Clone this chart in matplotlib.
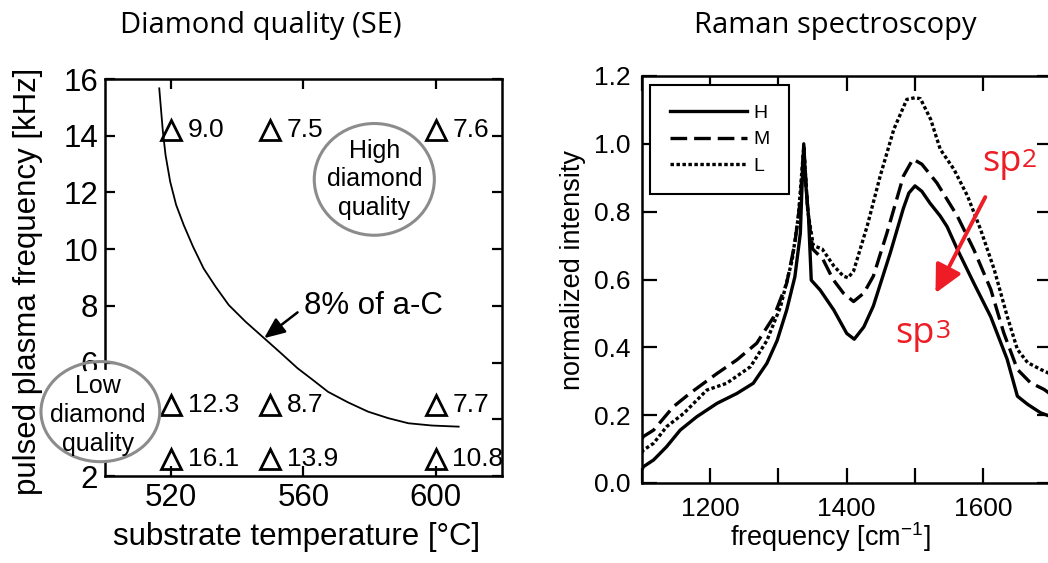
import numpy as np
import matplotlib
matplotlib.use('Agg')
import matplotlib.pyplot as plt
from matplotlib.patches import Ellipse
from matplotlib.ticker import MultipleLocator, FormatStrFormatter

plt.rcParams['font.family'] = ['Liberation Sans', 'DejaVu Sans']
plt.rcParams['mathtext.fontset'] = 'custom'
plt.rcParams['mathtext.rm'] = 'Liberation Sans'
plt.rcParams['lines.scale_dashes'] = False

# ---- diamond quality map (a-C content in %) ----
temps = [520, 550, 600]
freq_rows = [14.2, 4.5, 2.6]
ac_percent = [[9.0, 7.5, 7.6],
              [12.3, 8.7, 7.7],
              [16.1, 13.9, 10.8]]

# 8 % a-C boundary
bound_T = [516.4, 516.9, 517.5, 518.3, 519.7, 521.5, 523.8, 526.6, 529.8, 533.4,
           537.4, 542.5, 548.1, 553.2, 558.2, 562.8, 567.4, 573.4, 579.5, 585.6,
           591.7, 598.8, 606.9]
bound_f = [15.67, 14.97, 14.14, 13.32, 12.38, 11.56, 10.85, 10.09, 9.32, 8.68,
           8.03, 7.44, 6.86, 6.33, 5.80, 5.39, 4.97, 4.60, 4.27, 4.04,
           3.86, 3.78, 3.74]

# ---- Raman spectra ----
nu_H = [1100, 1102, 1117, 1136, 1156, 1180, 1210, 1239, 1263, 1283, 1298, 1312, 1324,
        1332, 1334, 1337, 1340, 1344, 1348, 1361, 1381, 1400, 1411, 1425, 1439, 1464,
        1483, 1491, 1500, 1510, 1522, 1537, 1547, 1562, 1586, 1611, 1635, 1650, 1665,
        1684, 1700]
int_H = [0.04, 0.048, 0.068, 0.107, 0.156, 0.195, 0.235, 0.264, 0.294, 0.353, 0.42, 0.51, 0.608,
         0.736, 0.85, 1.0, 0.88, 0.785, 0.598, 0.569, 0.51, 0.441, 0.424, 0.46, 0.522, 0.68,
         0.81, 0.855, 0.876, 0.86, 0.825, 0.787, 0.756, 0.689, 0.59, 0.49, 0.365, 0.256, 0.232,
         0.207, 0.195]

nu_M = [1100, 1102, 1117, 1146, 1170, 1210, 1239, 1268, 1293, 1312, 1324, 1332, 1337,
        1343, 1350, 1365, 1380, 1395, 1410, 1425, 1439, 1459, 1483, 1497, 1510, 1532, 1562,
        1586, 1611, 1630, 1650, 1669, 1689, 1700]
int_M = [0.13, 0.137, 0.156, 0.225, 0.264, 0.323, 0.363, 0.412, 0.49, 0.589, 0.707, 0.834, 0.99,
         0.80, 0.69, 0.66, 0.60, 0.56, 0.535, 0.56, 0.61, 0.738, 0.905, 0.955, 0.94, 0.885, 0.787,
         0.689, 0.571, 0.443, 0.335, 0.296, 0.276, 0.26]

nu_L = [1100, 1102, 1117, 1136, 1161, 1195, 1224, 1259, 1283, 1303, 1320, 1329, 1337,
        1343, 1351, 1364, 1381, 1395, 1402, 1410, 1430, 1449, 1469, 1488, 1500, 1508,
        1523, 1537, 1557, 1577, 1596, 1616, 1635, 1650, 1665, 1684, 1700]
int_L = [0.09, 0.097, 0.117, 0.166, 0.205, 0.274, 0.294, 0.343, 0.42, 0.52, 0.657, 0.785, 0.99,
         0.80, 0.70, 0.69, 0.64, 0.61, 0.605, 0.625, 0.758, 0.905, 1.043, 1.131, 1.136, 1.133,
         1.072, 0.984, 0.925, 0.846, 0.748, 0.63, 0.492, 0.394, 0.355, 0.335, 0.32]

W, H = 1048, 563
fig = plt.figure(figsize=(W / 100, H / 100), dpi=100)
fig.patch.set_facecolor('white')

# ================= left: diamond quality =================
ax1 = fig.add_axes([105 / W, (H - 476) / H, 397 / W, 397 / H])
ax1.set_xlim(500, 620)
ax1.set_ylim(2, 16)
ax1.xaxis.set_major_locator(MultipleLocator(40))
ax1.yaxis.set_major_locator(MultipleLocator(2))
ax1.tick_params(direction='in', top=True, right=True, length=7.5, width=1.6,
                labelsize=22.5, pad=5)
for s in ax1.spines.values():
    s.set_linewidth(1.8)

ax1.plot(bound_T, bound_f, color='black', lw=1.3)

for i, f in enumerate(freq_rows):
    for j, T in enumerate(temps):
        ax1.plot(T, f, marker='^', ms=14, mfc='none', mec='black', mew=2,
                 clip_on=False)
        ax1.annotate(f'{ac_percent[i][j]:.1f}', xy=(T, f), xytext=(12, 0),
                     textcoords='offset points', ha='left', va='center', fontsize=19)

ax1.annotate('', xy=(548.1, 6.86), xytext=(558.2, 7.77),
             arrowprops=dict(arrowstyle='-|>,head_length=0.7,head_width=0.3',
                             color='black', lw=1.8, mutation_scale=18,
                             shrinkA=0, shrinkB=0))
ax1.text(560.2, 8.0, '8% of a-C', fontsize=22.5, ha='left', va='center')

# quality regions
circle_gray = '#8c8c8c'
ax1.add_patch(Ellipse((581.4, 12.46), 36.3, 3.94, fc='white', ec=circle_gray,
                      lw=2.2, clip_on=False, zorder=3))
ax1.text(581.4, 12.46, 'High\ndiamond\nquality', ha='center', va='center',
         fontsize=18, linespacing=1.25, zorder=4)
# white backing hides the spine and the "4" label inside the low-quality ring
ax1.add_patch(Ellipse((498.6, 4.13), 35.3, 3.24, fc='white', ec='none',
                      clip_on=False, zorder=2.8))
ax1.add_patch(Ellipse((498.6, 4.27), 35.9, 3.53, fill=False, ec=circle_gray,
                      lw=2.2, clip_on=False, zorder=3))
ax1.text(497.9, 4.15, 'Low\ndiamond\nquality', ha='center', va='center',
         fontsize=18, linespacing=1.25, clip_on=False, zorder=4)

ax1.set_xlabel('substrate temperature [°C]', fontsize=22.5, va='center')
ax1.xaxis.set_label_coords(0.4836, -0.1537)
ax1.set_ylabel('pulsed plasma frequency [kHz]', fontsize=22.5, va='center')
ax1.yaxis.set_label_coords(-0.1927, 0.491)

# ================= right: Raman =================
ax2 = fig.add_axes([642 / W, (H - 483) / H, 409.5 / W, 407 / H])
ax2.set_xlim(1100, 1700)
ax2.set_ylim(0, 1.2)
ax2.xaxis.set_major_locator(MultipleLocator(200))
ax2.xaxis.set_minor_locator(MultipleLocator(100))
ax2.yaxis.set_major_locator(MultipleLocator(0.2))
ax2.yaxis.set_major_formatter(FormatStrFormatter('%.1f'))
ax2.tick_params(which='both', direction='in', top=True, right=True, length=11,
                width=1.6, labelsize=19)
ax2.tick_params(axis='x', pad=10)
ax2.tick_params(axis='y', pad=8)
for s in ax2.spines.values():
    s.set_linewidth(1.8)

lH, = ax2.plot(nu_H, int_H, color='black', lw=2.4, label='H')
lM, = ax2.plot(nu_M, int_M, color='black', lw=2.4, label='M', dashes=[12, 5])
lL, = ax2.plot(nu_L, int_L, color='black', lw=2.4, label='L', dashes=[2.5, 1.8])

leg = ax2.legend(handles=[lH, lM, lL], loc='upper left', bbox_to_anchor=(0.02, 0.978),
                 borderaxespad=0, fontsize=14, handlelength=4.0, handletextpad=0.3,
                 labelspacing=0.45, fancybox=False, framealpha=1, edgecolor='black',
                 borderpad=1.0)
leg.get_frame().set_linewidth(1.5)

red = '#ee1c25'
ax2.annotate('', xy=(1530, 0.56), xytext=(1603, 0.843),
             arrowprops=dict(arrowstyle='-|>,head_length=0.6,head_width=0.3',
                             color=red, lw=2.8, mutation_scale=28,
                             shrinkA=0, shrinkB=0))
ax2.text(1598, 0.92, 'sp', color=red, fontsize=26, family='Open Sans',
         ha='left', va='baseline')
ax2.annotate('2', xy=(1598, 0.92), xytext=(29, 3), textcoords='offset points',
             color=red, fontsize=19, family='Open Sans', ha='left', va='baseline')
ax2.text(1471, 0.414, 'sp', color=red, fontsize=26, family='Open Sans',
         ha='left', va='baseline')
ax2.annotate('3', xy=(1471, 0.414), xytext=(29, 3), textcoords='offset points',
             color=red, fontsize=19, family='Open Sans', ha='left', va='baseline')

ax2.set_xlabel('frequency [cm$^{-1}$]', fontsize=19.5, va='center')
ax2.xaxis.set_label_coords(0.459, -0.1327)
ax2.set_ylabel('normalized intensity', fontsize=19.5, va='center')
ax2.yaxis.set_label_coords(-0.1685, 0.523)

# panel titles
fig.text(261 / W, 1 - 25 / H, 'Diamond quality (SE)', family='Open Sans',
         fontsize=21, ha='center', va='center')
fig.text(835 / W, 1 - 25 / H, 'Raman spectroscopy', family='Open Sans',
         fontsize=21, ha='center', va='center')

fig.savefig('out.png', dpi=100)
